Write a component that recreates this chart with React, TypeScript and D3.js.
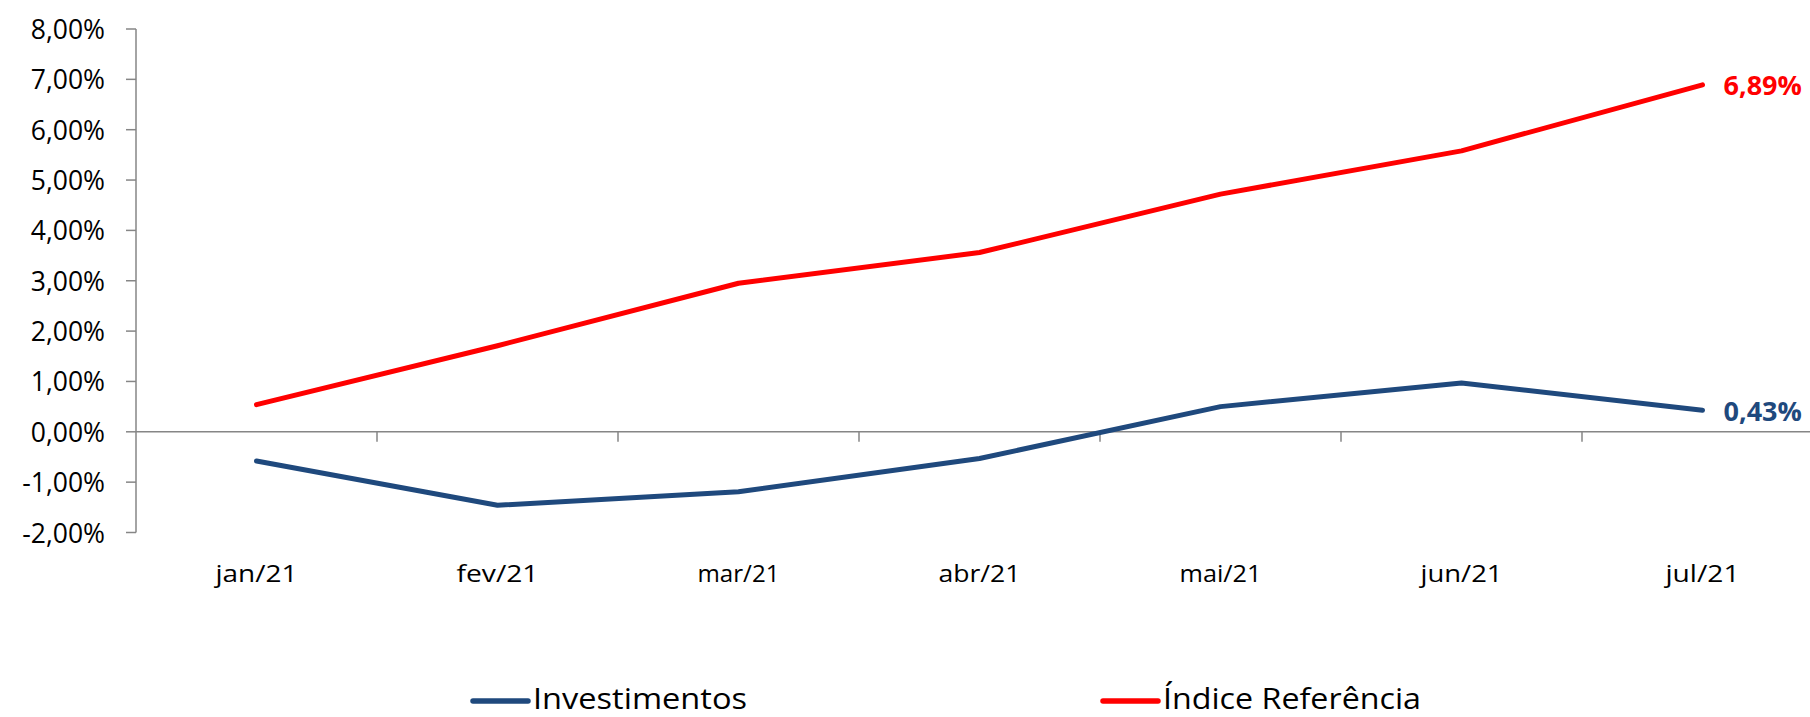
import * as d3 from "d3";

const months = ["jan/21", "fev/21", "mar/21", "abr/21", "mai/21", "jun/21", "jul/21"];
const investimentos = [-0.58, -1.46, -1.19, -0.53, 0.5, 0.97, 0.43];
const indiceReferencia = [0.54, 1.71, 2.95, 3.56, 4.72, 5.58, 6.89];
const yTicks = [-2, -1, 0, 1, 2, 3, 4, 5, 6, 7, 8];
const seriesNames = ["Investimentos", "Índice Referência"];
const seriesColors = ["#1F497D", "#FF0000"];

const W = 1810;
const H = 717;
const FONT = "'Open Sans', 'Liberation Sans', sans-serif";
const AXIS = "#868686";

const fmt = (v: number) => v.toFixed(2).replace(".", ",") + "%";

export default function App() {
    const x = d3.scaleBand<string>().domain(months).range([136, 136 + 7 * 241]);
    const y = d3.scaleLinear().domain([-2, 8]).range([532.5, 29]);
    const cx = (m: string) => (x(m) ?? 0) + x.bandwidth() / 2;

    const series = [investimentos, indiceReferencia];
    const lineGen = d3
        .line<number>()
        .x((_, i) => cx(months[i]))
        .y((v) => y(v));

    const legendX = [473, 1103];
    const legendW = [214, 258];

    return (
        <svg
            width={W}
            height={H}
            style={{ position: "absolute", left: 0, top: 0, background: "#fff" }}
            fontFamily={FONT}
        >
            {/* y axis */}
            <line x1={136} x2={136} y1={y(8)} y2={y(-2)} stroke={AXIS} strokeWidth={1.5} />
            {yTicks.map((t) => (
                <g key={t}>
                    <line x1={126} x2={136} y1={y(t)} y2={y(t)} stroke={AXIS} strokeWidth={1.5} />
                    <text
                        x={105}
                        y={y(t)}
                        textAnchor="end"
                        dominantBaseline="central"
                        fontSize={26.5}
                        fill="#000"
                    >
                        {fmt(t)}
                    </text>
                </g>
            ))}

            {/* x axis on zero */}
            <line x1={136} x2={W} y1={y(0)} y2={y(0)} stroke={AXIS} strokeWidth={1.5} />
            {months.slice(1).map((m) => (
                <line
                    key={m}
                    x1={x(m)}
                    x2={x(m)}
                    y1={y(0)}
                    y2={y(0) + 10}
                    stroke={AXIS}
                    strokeWidth={1.5}
                />
            ))}
            {months.map((m) => (
                <text
                    key={m}
                    x={cx(m)}
                    y={582}
                    textAnchor="middle"
                    fontSize={24}
                    fill="#000"
                    textLength={m === "jul/21" ? 74 : 82}
                    lengthAdjust="spacingAndGlyphs"
                >
                    {m}
                </text>
            ))}

            {/* lines */}
            {series.map((s, i) => (
                <path
                    key={i}
                    d={lineGen(s) ?? ""}
                    fill="none"
                    stroke={seriesColors[i]}
                    strokeWidth={5}
                    strokeLinecap="round"
                    strokeLinejoin="round"
                />
            ))}

            {/* end labels */}
            {series.map((s, i) => (
                <text
                    key={i}
                    x={cx(months[6]) + 21}
                    y={y(s[6])}
                    dominantBaseline="central"
                    fontSize={27}
                    fontWeight="bold"
                    fill={seriesColors[i]}
                >
                    {fmt(s[6])}
                </text>
            ))}

            {/* legend */}
            {seriesNames.map((n, i) => (
                <g key={n}>
                    <line
                        x1={legendX[i]}
                        x2={legendX[i] + 55}
                        y1={701}
                        y2={701}
                        stroke={seriesColors[i]}
                        strokeWidth={5.5}
                        strokeLinecap="round"
                    />
                    <text
                        x={legendX[i] + 60}
                        y={709}
                        fontSize={28.5}
                        fill="#000"
                        textLength={legendW[i]}
                        lengthAdjust="spacingAndGlyphs"
                    >
                        {n}
                    </text>
                </g>
            ))}
        </svg>
    );
}
